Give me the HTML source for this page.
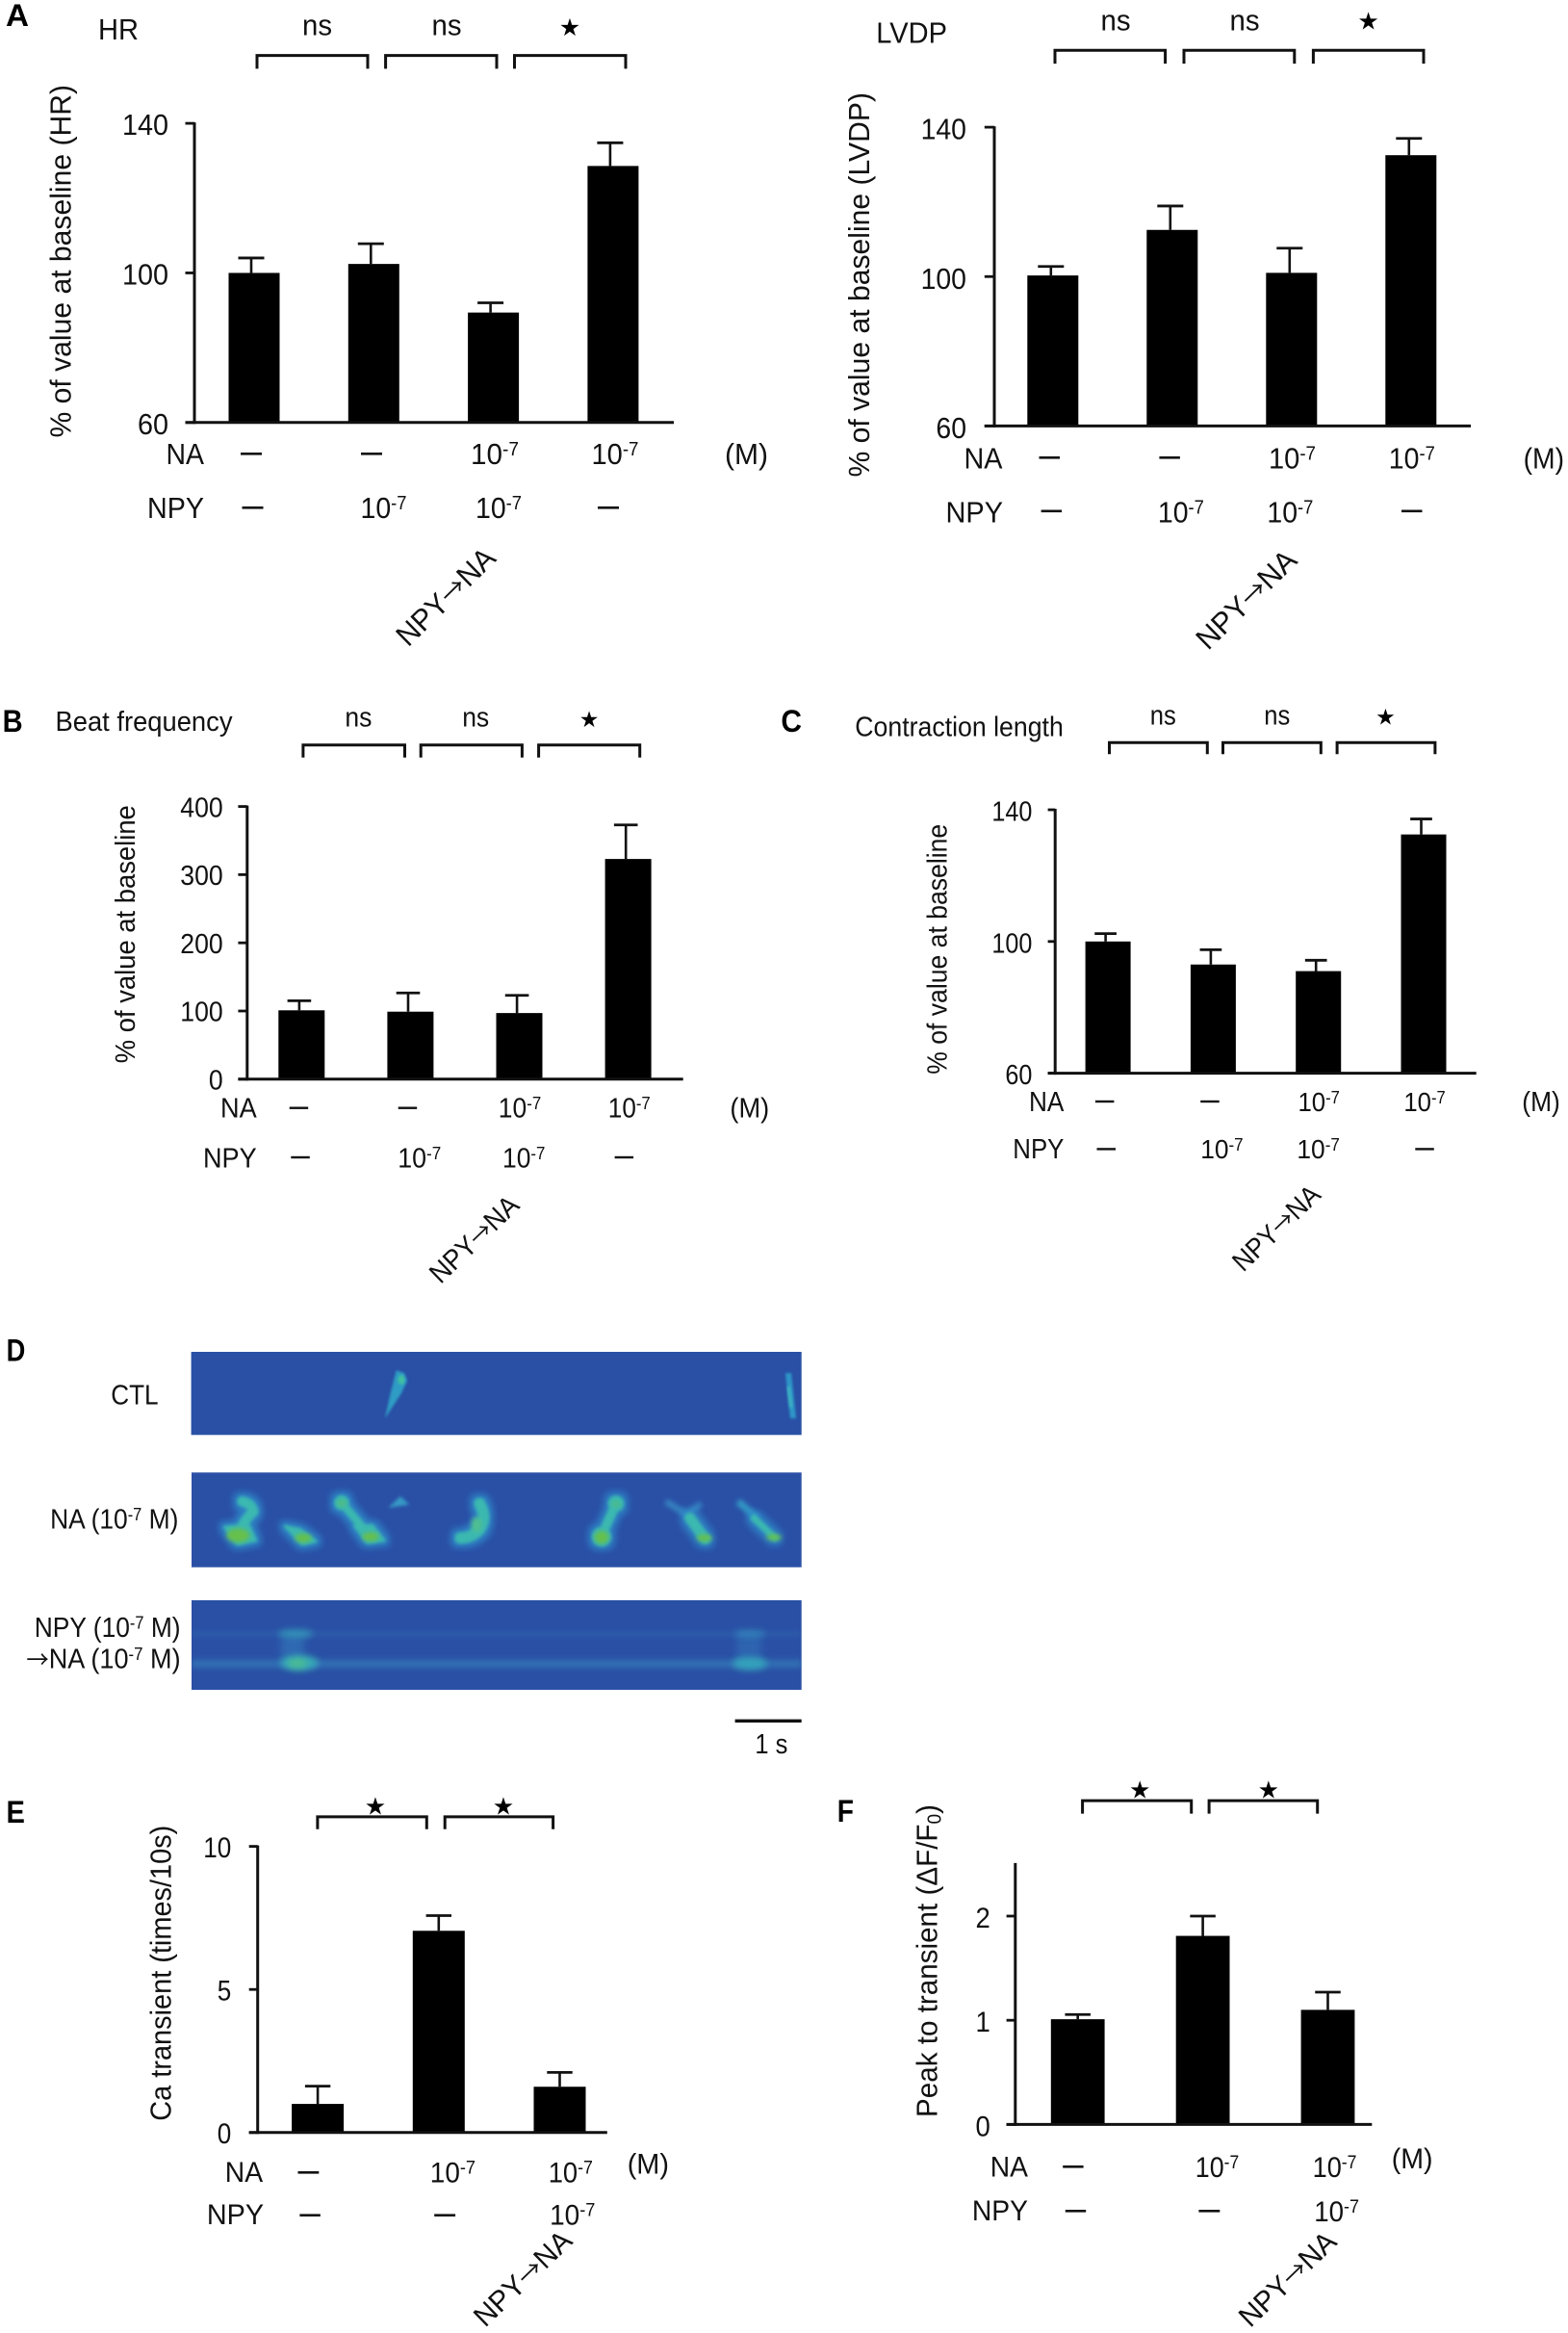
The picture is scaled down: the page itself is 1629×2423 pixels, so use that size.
<!DOCTYPE html>
<html lang="en">
<head>
<meta charset="utf-8">
<title>NPY and NA effects on cardiac function</title>
<style>
html,body{margin:0;padding:0;background:#fff;}
svg{display:block;}
text{font-family:"Liberation Sans","DejaVu Sans",sans-serif;fill:#111;}
.star{font-family:"DejaVu Sans","Liberation Sans",sans-serif;text-anchor:middle;font-size:25px;fill:#000;}
.letter{font-weight:bold;font-size:32px;fill:#000;}
.br{fill:none;stroke:#111;stroke-width:3;}
.d{fill:#111;}
.mid{text-anchor:middle;}
.arrow{font-family:"Noto Sans CJK JP","DejaVu Sans",sans-serif;}
</style>
</head>
<body>
<svg id="figure" xmlns="http://www.w3.org/2000/svg" width="1629" height="2423" viewBox="0 0 1629 2423">
<defs>
<filter id="blur-outer" x="-30%" y="-30%" width="160%" height="160%"><feMorphology operator="dilate" radius="12"/><feGaussianBlur stdDeviation="10"/></filter>
<filter id="blur-mid" x="-30%" y="-30%" width="160%" height="160%"><feGaussianBlur stdDeviation="5"/></filter>
<filter id="blur-core" x="-30%" y="-30%" width="160%" height="160%"><feGaussianBlur stdDeviation="7"/></filter>
<filter id="blur-soft" x="-30%" y="-100%" width="160%" height="300%"><feGaussianBlur stdDeviation="3.5"/></filter>
<filter id="blur-fine" x="-60%" y="-20%" width="220%" height="140%"><feGaussianBlur stdDeviation="1.2"/></filter>
<filter id="blur-band" x="0%" y="-400%" width="100%" height="900%"><feGaussianBlur stdDeviation="3"/></filter>
<filter id="blur-wide" x="-50%" y="-100%" width="200%" height="300%"><feGaussianBlur stdDeviation="4"/></filter>
<g id="na-left" fill="currentColor" stroke="currentColor" stroke-linecap="round" stroke-linejoin="round">
<path d="M185 118 Q215 125 220 150 Q195 170 175 215" fill="none" stroke-width="32"/>
<path d="M130 198 L205 190 L228 240 L170 252 Z" stroke-width="8"/>
<path d="M318 195 L365 205 L415 243 L372 252 Z" stroke-width="8"/>
<circle cx="495" cy="122" r="23"/>
<path d="M495 122 L580 222" fill="none" stroke-width="26"/>
<path d="M535 195 L590 192 L628 240 L575 247 Z" stroke-width="8"/>
<path d="M925 125 Q950 170 925 205 Q900 232 865 232" fill="none" stroke-width="36"/>
</g>
<g id="na-right" fill="currentColor" stroke="currentColor" stroke-linecap="round" stroke-linejoin="round">
<circle cx="390" cy="125" r="25"/>
<path d="M390 125 L345 225" fill="none" stroke-width="30"/>
<circle cx="345" cy="228" r="30"/>
<path d="M620 170 L668 235" fill="none" stroke-width="34"/>
<path d="M820 170 L885 232" fill="none" stroke-width="22"/>
</g>
</defs>

<rect width="1629" height="2423" fill="#fff"/>

<!-- PANEL A HR -->
<g>
<text class="letter" x="6" y="27" textLength="24" lengthAdjust="spacingAndGlyphs">A</text>
<text x="102" y="41" font-size="31" textLength="42" lengthAdjust="spacingAndGlyphs">HR</text>
<text class="mid" x="329.5" y="36.6" font-size="31" textLength="31" lengthAdjust="spacingAndGlyphs">ns</text>
<text class="mid" x="464" y="36.6" font-size="31" textLength="31" lengthAdjust="spacingAndGlyphs">ns</text>
<text class="star" x="592" y="37">★</text>
<path class="br" d="M267 71.4V57.6H382V71.4"/>
<path class="br" d="M400.6 71.4V57.6H516V71.4"/>
<path class="br" d="M534.5 71.4V57.6H650V71.4"/>
<text transform="translate(73.5,454.5) rotate(-90)" font-size="31" textLength="366.5" lengthAdjust="spacingAndGlyphs">% of value at baseline (HR)</text>
<g id="chart-hr"></g>
<text x="172.5" y="482" font-size="31" textLength="39.5" lengthAdjust="spacingAndGlyphs">NA</text>
<text x="153" y="538" font-size="31" textLength="59" lengthAdjust="spacingAndGlyphs">NPY</text>
<rect class="d" x="250" y="470" width="22" height="2.6"/>
<rect class="d" x="375" y="470" width="22" height="2.6"/>
<text x="489" y="482" font-size="31" textLength="50" lengthAdjust="spacingAndGlyphs">10<tspan dy="-9" font-size="20">-7</tspan></text>
<text x="614.5" y="482" font-size="31" textLength="49" lengthAdjust="spacingAndGlyphs">10<tspan dy="-9" font-size="20">-7</tspan></text>
<text x="753" y="482" font-size="31" textLength="45" lengthAdjust="spacingAndGlyphs">(M)</text>
<rect class="d" x="251.5" y="526" width="22" height="2.6"/>
<text x="374.5" y="538" font-size="31" textLength="48" lengthAdjust="spacingAndGlyphs">10<tspan dy="-9" font-size="20">-7</tspan></text>
<text x="494" y="538" font-size="31" textLength="48" lengthAdjust="spacingAndGlyphs">10<tspan dy="-9" font-size="20">-7</tspan></text>
<rect class="d" x="621" y="526" width="22" height="2.6"/>
<text transform="translate(424,672.7) rotate(-44.5)" font-size="31" textLength="130" lengthAdjust="spacingAndGlyphs">NPY<tspan class="arrow" font-size="27">→</tspan>NA</text>
</g>

<!-- PANEL A LVDP -->
<g>
<text x="910.3" y="44.6" font-size="31" textLength="73.7" lengthAdjust="spacingAndGlyphs">LVDP</text>
<text class="mid" x="1159" y="31.3" font-size="31" textLength="31" lengthAdjust="spacingAndGlyphs">ns</text>
<text class="mid" x="1293" y="31.3" font-size="31" textLength="31" lengthAdjust="spacingAndGlyphs">ns</text>
<text class="star" x="1421.6" y="30.5">★</text>
<path class="br" d="M1096 66.1V52.2H1210.6V66.1"/>
<path class="br" d="M1230 66.1V52.2H1344.8V66.1"/>
<path class="br" d="M1364.4 66.1V52.2H1479V66.1"/>
<text transform="translate(903,495.5) rotate(-90)" font-size="31" textLength="399.5" lengthAdjust="spacingAndGlyphs">% of value at baseline (LVDP)</text>
<g id="chart-lvdp"></g>
<text x="1001.5" y="486.6" font-size="31" textLength="40" lengthAdjust="spacingAndGlyphs">NA</text>
<text x="982.5" y="542.4" font-size="31" textLength="59.5" lengthAdjust="spacingAndGlyphs">NPY</text>
<rect class="d" x="1079.5" y="474" width="21.5" height="2.6"/>
<rect class="d" x="1204.4" y="474" width="21.5" height="2.6"/>
<text x="1318" y="486.6" font-size="31" textLength="49" lengthAdjust="spacingAndGlyphs">10<tspan dy="-9" font-size="20">-7</tspan></text>
<text x="1442.8" y="486.6" font-size="31" textLength="48" lengthAdjust="spacingAndGlyphs">10<tspan dy="-9" font-size="20">-7</tspan></text>
<text x="1582.6" y="486.6" font-size="31" textLength="42.5" lengthAdjust="spacingAndGlyphs">(M)</text>
<rect class="d" x="1081.6" y="529.5" width="21.5" height="2.6"/>
<text x="1202.9" y="542.4" font-size="31" textLength="48" lengthAdjust="spacingAndGlyphs">10<tspan dy="-9" font-size="20">-7</tspan></text>
<text x="1316.4" y="542.4" font-size="31" textLength="48" lengthAdjust="spacingAndGlyphs">10<tspan dy="-9" font-size="20">-7</tspan></text>
<rect class="d" x="1456" y="529.5" width="21.5" height="2.6"/>
<text transform="translate(1255,676.3) rotate(-44.5)" font-size="31" textLength="132" lengthAdjust="spacingAndGlyphs">NPY<tspan class="arrow" font-size="27">→</tspan>NA</text>
</g>

<!-- PANEL B -->
<g>
<text class="letter" x="2.6" y="760" textLength="21" lengthAdjust="spacingAndGlyphs">B</text>
<text x="57.5" y="758.9" font-size="29" textLength="184" lengthAdjust="spacingAndGlyphs">Beat frequency</text>
<text class="mid" x="372.4" y="754.7" font-size="29" textLength="28" lengthAdjust="spacingAndGlyphs">ns</text>
<text class="mid" x="494.2" y="754.7" font-size="29" textLength="28" lengthAdjust="spacingAndGlyphs">ns</text>
<text class="star" x="612" y="755" style="font-size:23px">★</text>
<path class="br" d="M314.9 786.7V773.8H420.5V786.7"/>
<path class="br" d="M437.2 786.7V773.8H542.4V786.7"/>
<path class="br" d="M559.6 786.7V773.8H664.7V786.7"/>
<text transform="translate(140.2,1104.2) rotate(-90)" font-size="29" textLength="268" lengthAdjust="spacingAndGlyphs">% of value at baseline</text>
<g id="chart-beat"></g>
<text x="229" y="1160.6" font-size="29" textLength="37.7" lengthAdjust="spacingAndGlyphs">NA</text>
<text x="211" y="1212.4" font-size="29" textLength="55.7" lengthAdjust="spacingAndGlyphs">NPY</text>
<rect class="d" x="300.7" y="1149.5" width="19.5" height="2.4"/>
<rect class="d" x="413.7" y="1149.5" width="19.5" height="2.4"/>
<text x="517.8" y="1160.6" font-size="29" textLength="44.4" lengthAdjust="spacingAndGlyphs">10<tspan dy="-8.5" font-size="18.5">-7</tspan></text>
<text x="631.8" y="1160.6" font-size="29" textLength="43.9" lengthAdjust="spacingAndGlyphs">10<tspan dy="-8.5" font-size="18.5">-7</tspan></text>
<text x="758.4" y="1160.6" font-size="29" textLength="40.8" lengthAdjust="spacingAndGlyphs">(M)</text>
<rect class="d" x="302.3" y="1200.8" width="19.5" height="2.4"/>
<text x="413.2" y="1212.4" font-size="29" textLength="45" lengthAdjust="spacingAndGlyphs">10<tspan dy="-8.5" font-size="18.5">-7</tspan></text>
<text x="522" y="1212.4" font-size="29" textLength="44.4" lengthAdjust="spacingAndGlyphs">10<tspan dy="-8.5" font-size="18.5">-7</tspan></text>
<rect class="d" x="638.6" y="1200.8" width="19.5" height="2.4"/>
<text transform="translate(457.6,1334.3) rotate(-44)" font-size="29" textLength="116" lengthAdjust="spacingAndGlyphs">NPY<tspan class="arrow" font-size="25">→</tspan>NA</text>
</g>

<!-- PANEL C -->
<g>
<text class="letter" x="811.4" y="760" textLength="21.6" lengthAdjust="spacingAndGlyphs">C</text>
<text x="888.3" y="764.3" font-size="29" textLength="216.5" lengthAdjust="spacingAndGlyphs">Contraction length</text>
<text class="mid" x="1208.3" y="752.7" font-size="29" textLength="27" lengthAdjust="spacingAndGlyphs">ns</text>
<text class="mid" x="1326.8" y="752.7" font-size="29" textLength="27" lengthAdjust="spacingAndGlyphs">ns</text>
<text class="star" x="1439.4" y="752.5" style="font-size:23px">★</text>
<path class="br" d="M1152.5 783.3V771.3H1254.3V783.3"/>
<path class="br" d="M1270.5 783.3V771.3H1372.3V783.3"/>
<path class="br" d="M1389.1 783.3V771.3H1490.9V783.3"/>
<text transform="translate(983.5,1115.8) rotate(-90)" font-size="28.5" textLength="260" lengthAdjust="spacingAndGlyphs">% of value at baseline</text>
<g id="chart-contraction"></g>
<text x="1069" y="1154" font-size="28.5" textLength="36.4" lengthAdjust="spacingAndGlyphs">NA</text>
<text x="1052.3" y="1202.9" font-size="28.5" textLength="53.1" lengthAdjust="spacingAndGlyphs">NPY</text>
<rect class="d" x="1137.9" y="1142.8" width="19.5" height="2.4"/>
<rect class="d" x="1247.2" y="1142.8" width="19.5" height="2.4"/>
<text x="1348.5" y="1154" font-size="28" textLength="43.3" lengthAdjust="spacingAndGlyphs">10<tspan dy="-8" font-size="18">-7</tspan></text>
<text x="1458.4" y="1154" font-size="28" textLength="43.3" lengthAdjust="spacingAndGlyphs">10<tspan dy="-8" font-size="18">-7</tspan></text>
<text x="1581.3" y="1154" font-size="28.5" textLength="39.5" lengthAdjust="spacingAndGlyphs">(M)</text>
<rect class="d" x="1139.5" y="1192.2" width="19.5" height="2.4"/>
<text x="1247.2" y="1202.9" font-size="28" textLength="44.4" lengthAdjust="spacingAndGlyphs">10<tspan dy="-8" font-size="18">-7</tspan></text>
<text x="1347.4" y="1202.9" font-size="28" textLength="44.4" lengthAdjust="spacingAndGlyphs">10<tspan dy="-8" font-size="18">-7</tspan></text>
<rect class="d" x="1470.3" y="1192.2" width="19.5" height="2.4"/>
<text transform="translate(1291.6,1321.9) rotate(-44)" font-size="28.5" textLength="114" lengthAdjust="spacingAndGlyphs">NPY<tspan class="arrow" font-size="25">→</tspan>NA</text>
</g>

<!-- PANEL D -->
<g>
<text class="letter" x="6.6" y="1413.3" textLength="19.7" lengthAdjust="spacingAndGlyphs">D</text>

<g>
<rect x="198.6" y="1404" width="634.1" height="86.3" fill="#2950a5"/>
<path d="M411.7 1423.3 L420 1426 L423 1434 L417 1447 L400 1473 L405 1450 Z" fill="#2f9cc4" filter="url(#blur-fine)"/>
<ellipse cx="417" cy="1433" rx="3.5" ry="5" fill="#3fc0a0" filter="url(#blur-fine)"/>
<path d="M816 1426 L822 1426 L827 1473 L821 1473 Z" fill="#2f96c8" filter="url(#blur-fine)"/>
<path d="M819 1440 L822 1462" fill="none" stroke="#3cb4c0" stroke-width="3" filter="url(#blur-fine)"/>
</g>

<g>
<rect x="199" y="1529.3" width="633.7" height="98.4" fill="#2a50a6"/>
<g transform="translate(190,1520) scale(0.3333)">
<use href="#na-left" style="color:#2f8ccb" opacity="0.8" filter="url(#blur-outer)"/>
<use href="#na-left" style="color:#3bb8b0" filter="url(#blur-mid)"/>
<g filter="url(#blur-core)" fill="#66c04c">
<ellipse cx="172" cy="224" rx="36" ry="22"/>
<ellipse cx="375" cy="232" rx="26" ry="14"/>
<ellipse cx="585" cy="228" rx="26" ry="14"/>
<ellipse cx="495" cy="124" rx="15" ry="11" fill="#4fbc80"/>
<ellipse cx="915" cy="190" rx="16" ry="24" fill="#4fbf90"/>
</g>
<path d="M640 138 L678 102 L706 128 Z" fill="#3498c4" filter="url(#blur-mid)"/>
</g>
<g transform="translate(510,1520) scale(0.3333)">
<path d="M545 118 L620 165 M655 125 L610 160" stroke="#3480bf" stroke-width="20" fill="none" filter="url(#blur-core)"/>
<path d="M770 118 L830 170" stroke="#3196c4" stroke-width="22" fill="none" filter="url(#blur-core)"/>
<use href="#na-right" style="color:#2f8ccb" opacity="0.75" filter="url(#blur-outer)"/>
<use href="#na-right" style="color:#3bb8b0" filter="url(#blur-mid)"/>
<g filter="url(#blur-core)" fill="#66c04c">
<ellipse cx="345" cy="230" rx="22" ry="20"/>
<ellipse cx="390" cy="126" rx="13" ry="9" fill="#4fbc80"/>
<ellipse cx="665" cy="232" rx="24" ry="11"/>
<ellipse cx="882" cy="230" rx="24" ry="9"/>
</g>
</g>
</g>

<g>
<rect x="199" y="1662" width="633.7" height="93" fill="#2a50a5"/>
<rect x="199" y="1695" width="633.7" height="4" fill="#3a86c0" opacity="0.3" filter="url(#blur-band)"/>
<rect x="199" y="1724" width="633.7" height="8" fill="#3a90c4" opacity="0.5" filter="url(#blur-band)"/>
<rect x="292" y="1700" width="24" height="24" fill="#3482c0" opacity="0.5" filter="url(#blur-wide)"/>
<rect x="765" y="1700" width="26" height="24" fill="#3482c0" opacity="0.4" filter="url(#blur-wide)"/>
<ellipse cx="307" cy="1696.7" rx="18" ry="4.5" fill="#36a4bd" opacity="0.75" filter="url(#blur-soft)"/>
<ellipse cx="779" cy="1696.7" rx="16" ry="4" fill="#3490c0" opacity="0.7" filter="url(#blur-soft)"/>
<ellipse cx="311" cy="1727" rx="20" ry="8" fill="#37b0b8" opacity="0.9" filter="url(#blur-soft)"/>
<ellipse cx="309" cy="1727.5" rx="10" ry="4.5" fill="#4fc08a" opacity="0.9" filter="url(#blur-soft)"/>
<ellipse cx="779" cy="1727.7" rx="18" ry="7" fill="#36abbd" opacity="0.85" filter="url(#blur-soft)"/>
</g>

<text x="115.2" y="1458.3" font-size="29" textLength="49.4" lengthAdjust="spacingAndGlyphs">CTL</text>
<text x="52.1" y="1587.3" font-size="29" textLength="133.3" lengthAdjust="spacingAndGlyphs">NA (10<tspan dy="-8.5" font-size="18">-7</tspan><tspan dy="8.5"> M)</tspan></text>
<text x="35.7" y="1700" font-size="29" textLength="151.9" lengthAdjust="spacingAndGlyphs">NPY (10<tspan dy="-8.5" font-size="18">-7</tspan><tspan dy="8.5"> M)</tspan></text>
<text x="27.4" y="1732.3" font-size="29" textLength="160.2" lengthAdjust="spacingAndGlyphs"><tspan class="arrow" font-size="25">→</tspan>NA (10<tspan dy="-8.5" font-size="18">-7</tspan><tspan dy="8.5"> M)</tspan></text>
<rect class="d" x="763.6" y="1785.6" width="69.1" height="3.4"/>
<text x="784.4" y="1821" font-size="29" textLength="34" lengthAdjust="spacingAndGlyphs">1 s</text>
</g>

<!-- PANEL E -->
<g>
<text class="letter" x="6.5" y="1893" textLength="19.4" lengthAdjust="spacingAndGlyphs">E</text>
<text class="star" x="390" y="1884.5">★</text>
<text class="star" x="522.9" y="1884.5">★</text>
<path class="br" d="M329.9 1899.7V1886.9H443.3V1899.7"/>
<path class="br" d="M462.2 1899.7V1886.9H574.6V1899.7"/>
<text transform="translate(177.6,2202.7) rotate(-90)" font-size="31" textLength="307" lengthAdjust="spacingAndGlyphs">Ca transient (times/10s)</text>
<g id="chart-ca"></g>
<text x="233.8" y="2266" font-size="30" textLength="39.3" lengthAdjust="spacingAndGlyphs">NA</text>
<text x="214.9" y="2309.8" font-size="30" textLength="59.2" lengthAdjust="spacingAndGlyphs">NPY</text>
<rect class="d" x="309.5" y="2255" width="21.8" height="2.6"/>
<text x="446.8" y="2266.7" font-size="30" textLength="47.2" lengthAdjust="spacingAndGlyphs">10<tspan dy="-9" font-size="19.5">-7</tspan></text>
<text x="569.7" y="2266.7" font-size="30" textLength="46.2" lengthAdjust="spacingAndGlyphs">10<tspan dy="-9" font-size="19.5">-7</tspan></text>
<text x="651.7" y="2257.5" font-size="30" textLength="43.3" lengthAdjust="spacingAndGlyphs">(M)</text>
<rect class="d" x="311.4" y="2299.4" width="21.4" height="2.6"/>
<rect class="d" x="451.2" y="2299.4" width="21.9" height="2.6"/>
<text x="571.1" y="2310.5" font-size="30" textLength="47.3" lengthAdjust="spacingAndGlyphs">10<tspan dy="-9" font-size="19.5">-7</tspan></text>
<text transform="translate(504,2418) rotate(-44)" font-size="30" textLength="128" lengthAdjust="spacingAndGlyphs">NPY<tspan class="arrow" font-size="26">→</tspan>NA</text>
</g>

<!-- PANEL F -->
<g>
<text class="letter" x="869.8" y="1892" textLength="17.2" lengthAdjust="spacingAndGlyphs">F</text>
<text class="star" x="1184.2" y="1867.5">★</text>
<text class="star" x="1317.8" y="1867.5">★</text>
<path class="br" d="M1124.6 1883.6V1870.1H1237.7V1883.6"/>
<path class="br" d="M1256.1 1883.6V1870.1H1368.7V1883.6"/>
<text transform="translate(973.5,2199) rotate(-90)" font-size="31" textLength="325" lengthAdjust="spacingAndGlyphs">Peak to transient (ΔF/F<tspan dy="4" font-size="20">0</tspan><tspan dy="-4">)</tspan></text>
<g id="chart-peak"></g>
<text x="1028.8" y="2260.4" font-size="30" textLength="39.2" lengthAdjust="spacingAndGlyphs">NA</text>
<text x="1009.9" y="2306.1" font-size="30" textLength="58.1" lengthAdjust="spacingAndGlyphs">NPY</text>
<rect class="d" x="1104.2" y="2249" width="21.4" height="2.6"/>
<text x="1241.8" y="2261.2" font-size="30" textLength="45.4" lengthAdjust="spacingAndGlyphs">10<tspan dy="-9" font-size="19.5">-7</tspan></text>
<text x="1363.6" y="2261.2" font-size="30" textLength="45.9" lengthAdjust="spacingAndGlyphs">10<tspan dy="-9" font-size="19.5">-7</tspan></text>
<text x="1445.7" y="2252" font-size="30" textLength="42.8" lengthAdjust="spacingAndGlyphs">(M)</text>
<rect class="d" x="1106.8" y="2295" width="21.4" height="2.6"/>
<rect class="d" x="1245.4" y="2295" width="21.9" height="2.6"/>
<text x="1365.2" y="2306.9" font-size="30" textLength="46.8" lengthAdjust="spacingAndGlyphs">10<tspan dy="-9" font-size="19.5">-7</tspan></text>
<text transform="translate(1298.9,2418.3) rotate(-44)" font-size="30" textLength="127" lengthAdjust="spacingAndGlyphs">NPY<tspan class="arrow" font-size="26">→</tspan>NA</text>
</g>
</svg>

<script>
// Categories
const categoriesFour = ['control', 'npy', 'npy-then-na', 'na'];
const categoriesThree = ['control', 'na', 'npy-then-na'];

// Series values (mean and error-bar length)
const hrValues = [100, 102.4, 89.4, 128.6];
const hrErrors = [4, 5.4, 2.6, 6.2];
const hrTicks = [60, 100, 140];

const lvdpValues = [100.3, 112.5, 101, 132.5];
const lvdpErrors = [2.4, 6.4, 6.6, 4.5];
const lvdpTicks = [60, 100, 140];

const beatValues = [101, 99, 97, 323];
const beatErrors = [14, 27.5, 26, 50];
const beatTicks = [0, 100, 200, 300, 400];

const contractionValues = [100, 93, 91, 132.5];
const contractionErrors = [2.4, 4.5, 3.3, 4.7];
const contractionTicks = [60, 100, 140];

const caValues = [1, 7.05, 1.6];
const caErrors = [0.62, 0.53, 0.5];
const caTicks = [0, 5, 10];

const peakValues = [1.01, 1.81, 1.1];
const peakErrors = [0.045, 0.19, 0.17];
const peakTicks = [0, 1, 2];

const SVG_NS = 'http://www.w3.org/2000/svg';

function make(parent, tag, name, attrs) {
  const el = document.createElementNS(SVG_NS, tag);
  
  
  for (const key in attrs) el.setAttribute(key, attrs[key]);
  parent.appendChild(el);
  return el;
}

function drawChart(id, prefix, categories, values, errors, ticks, g) {
  const root = document.getElementById(id);
  const yScale = v => g.yBot - (v - g.vMin) / (g.vMax - g.vMin) * (g.yBot - g.yTop);
  const xScale = i => g.first + i * g.step;

  categories.forEach((cat, i) => {
    const cx = xScale(i);
    const ex = cx + g.errOff;
    const top = yScale(values[i]);
    const errTop = yScale(values[i] + errors[i]);
    make(root, 'line', prefix + '-error-stem-' + cat, {x1: ex, x2: ex, y1: top, y2: errTop, stroke: '#111', 'stroke-width': 2.6});
    make(root, 'line', prefix + '-error-cap-' + cat, {x1: ex - g.cap / 2, x2: ex + g.cap / 2, y1: errTop, y2: errTop, stroke: '#111', 'stroke-width': 2.8});
    make(root, 'rect', prefix + '-bar-' + cat, {x: cx - g.barW / 2, y: top, width: g.barW, height: g.yBot - top, fill: '#000'});
  });

  make(root, 'line', prefix + '-y-axis', {x1: g.axisX, x2: g.axisX, y1: g.yTop - 1, y2: g.yBot + 1.5, stroke: '#111', 'stroke-width': 3});
  make(root, 'line', prefix + '-x-axis', {x1: g.tickLeft, x2: g.right, y1: g.yBot, y2: g.yBot, stroke: '#111', 'stroke-width': 3});

  ticks.forEach(t => {
    const y = yScale(t);
    make(root, 'line', prefix + '-tick-' + t, {x1: g.tickLeft, x2: g.axisX, y1: y, y2: y, stroke: '#111', 'stroke-width': 2.8});
    const label = make(root, 'text', prefix + '-tick-label-' + t, {
      x: g.labelRight, y: y + g.labelOff, 'font-size': g.font, 'text-anchor': 'end',
      textLength: String(t).length * g.digit, lengthAdjust: 'spacingAndGlyphs'
    });
    label.textContent = String(t);
  });
}

drawChart('chart-hr', 'hr', categoriesFour, hrValues, hrErrors, hrTicks,
  {axisX: 202, yTop: 128.1, yBot: 438.8, vMin: 60, vMax: 140, tickLeft: 192.5, right: 700, first: 264, step: 124.3, barW: 53, errOff: -3, cap: 27, labelRight: 175, labelOff: 12, font: 31, digit: 16});
drawChart('chart-lvdp', 'lvdp', categoriesFour, lvdpValues, lvdpErrors, lvdpTicks,
  {axisX: 1033, yTop: 132.1, yBot: 442.4, vMin: 60, vMax: 140, tickLeft: 1022.8, right: 1528, first: 1093.8, step: 124, barW: 53, errOff: -2, cap: 27, labelRight: 1004, labelOff: 12.5, font: 31, digit: 15.8});
drawChart('chart-beat', 'beat', categoriesFour, beatValues, beatErrors, beatTicks,
  {axisX: 256.8, yTop: 837.6, yBot: 1120.8, vMin: 0, vMax: 400, tickLeft: 247.4, right: 709.7, first: 313.3, step: 113.1, barW: 48, errOff: -2.4, cap: 24.6, labelRight: 231.7, labelOff: 10.7, font: 29, digit: 14.8});
drawChart('chart-contraction', 'contraction', categoriesFour, contractionValues, contractionErrors, contractionTicks,
  {axisX: 1096.2, yTop: 841, yBot: 1114.6, vMin: 60, vMax: 140, tickLeft: 1088.6, right: 1533.7, first: 1151.1, step: 109.3, barW: 47, errOff: -2.5, cap: 22.7, labelRight: 1072.4, labelOff: 11.6, font: 28.5, digit: 14});
drawChart('chart-ca', 'ca', categoriesThree, caValues, caErrors, caTicks,
  {axisX: 267.7, yTop: 1917.6, yBot: 2214.8, vMin: 0, vMax: 10, tickLeft: 258.7, right: 630.8, first: 330.1, step: 125.7, barW: 54, errOff: 0, cap: 26.4, labelRight: 240.3, labelOff: 11.3, font: 30, digit: 14.5});
drawChart('chart-peak', 'peak', categoriesThree, peakValues, peakErrors, peakTicks,
  {axisX: 1054.8, yTop: 1935.9, yBot: 2206.4, vMin: 0, vMax: 2.5, tickLeft: 1045.6, right: 1425.3, first: 1119.7, step: 129.9, barW: 55.8, errOff: 0, cap: 26.5, labelRight: 1028.8, labelOff: 12, font: 30, digit: 15.3});
</script>
</body>
</html>
